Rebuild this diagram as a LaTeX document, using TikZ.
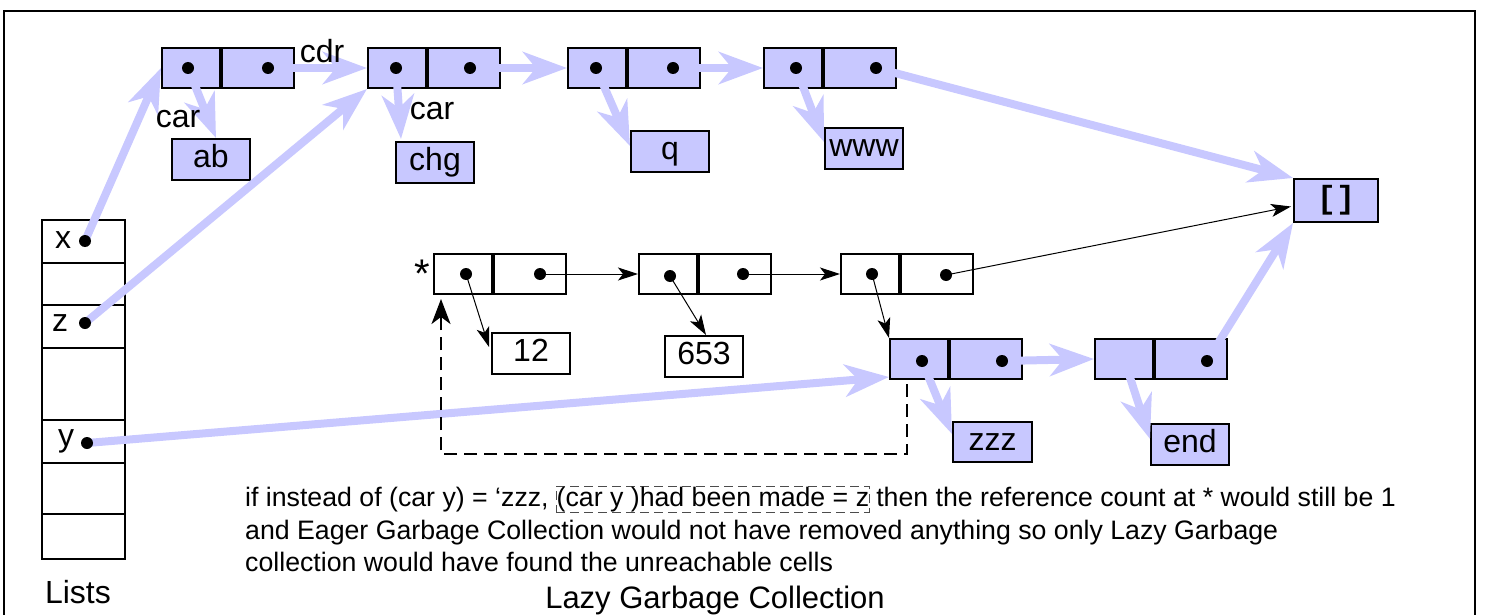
\documentclass[tikz,border=0pt]{standalone}
\usepackage{fontspec}
\setmainfont{Liberation Sans}
\newfontfamily\monofnt{Liberation Mono}
\usetikzlibrary{arrows.meta,calc}
\definecolor{cellblue}{RGB}{200,200,255}
\begin{document}
\begin{tikzpicture}[x=1pt,y=-1pt,
  every node/.style={font=\fontsize{32}{38}\selectfont, inner sep=0pt},
  halfL/.style={draw=black, line width=2pt, minimum width=58pt, minimum height=40pt},
  halfR/.style={draw=black, line width=2pt, minimum width=72pt, minimum height=40pt, anchor=west},
  bluefill/.style={fill=cellblue},
  whitefill/.style={fill=white},
  valbox/.style={draw=black, line width=2pt, minimum width=78pt, minimum height=41pt, text height=23pt, text depth=7pt},
  listcell/.style={draw=black, line width=2pt, minimum width=83pt, anchor=north west, fill=white},
  dotmark/.style={circle, fill=black, inner sep=0pt, minimum size=12pt},
  bluearrow/.style={draw=cellblue, line width=8pt, -{Stealth[length=44pt,width=32pt,inset=13pt]}},
  thinarrow/.style={draw=black, line width=1pt, -{Stealth[length=20pt,width=13pt,inset=5pt]}},
  dasharrow/.style={draw=black, line width=2pt, dash pattern=on 13pt off 7pt, -{Stealth[length=25pt,width=19pt,inset=7pt]}},
  note/.style={font=\fontsize{26.7}{32}\selectfont, anchor=base west},
  notebox/.style={font=\fontsize{26.7}{32}\selectfont, anchor=base west, draw=black!70, line width=0.8pt, dash pattern=on 9pt off 5pt, inner ysep=0.5pt, inner xsep=0.5pt}
]
\useasboundingbox (0,0) rectangle (1487,615);
% frame
\draw[line width=2pt] (4,640) -- (4,11) -- (1475,11) -- (1475,640);

% list column
\node[listcell, minimum height=43pt] (lx) at (41,219) {};
\node[listcell, minimum height=42pt] (l2) at (41,262) {};
\node[listcell, minimum height=43pt] (lz) at (41,304) {};
\node[listcell, minimum height=72pt] (l4) at (41,347) {};
\node[listcell, minimum height=43pt] (ly) at (41,419) {};
\node[listcell, minimum height=51pt] (l6) at (41,462) {};
\node[listcell, minimum height=45pt] (l7) at (41,513) {};

% top cons cells (blue)
\node[halfL, bluefill] (c1a) at (191,68) {};
\node[halfR, bluefill] (c1b) at (c1a.east) {};
\node[halfL, bluefill] (c2a) at (397,68) {};
\node[halfR, bluefill] (c2b) at (c2a.east) {};
\node[halfL, bluefill] (c3a) at (597,68) {};
\node[halfR, bluefill] (c3b) at (c3a.east) {};
\node[halfL, bluefill] (c4a) at (793,68) {};
\node[halfR, bluefill] (c4b) at (c4a.east) {};

% middle cons cells (white)
\node[halfL, whitefill] (ca) at (463,274) {};
\node[halfR, whitefill] (cab) at (ca.east) {};
\node[halfL, whitefill] (cb) at (668,274) {};
\node[halfR, whitefill] (cbb) at (cb.east) {};
\node[halfL, whitefill] (cc) at (870,274) {};
\node[halfR, whitefill] (ccb) at (cc.east) {};

% lower cons cells (blue)
\node[halfL, bluefill] (cd) at (919,359) {};
\node[halfR, bluefill] (cdb) at (cd.east) {};
\node[halfL, bluefill] (ce) at (1124,359) {};
\node[halfR, bluefill] (ceb) at (ce.east) {};

% value boxes
\node[valbox, bluefill] (ab) at (211,159.5) {ab};
\node[valbox, bluefill] (chg) at (435,162.5) {chg};
\node[valbox, bluefill] (q) at (670,151.5) {q};
\node[valbox, bluefill] (www) at (864,148.5) {www};
\node[valbox, bluefill, minimum width=84pt, minimum height=43pt] (nil) at (1336,200.5) {\monofnt\bfseries []};
\node[valbox, whitefill] (t12) at (531,353.5) {12};
\node[valbox, whitefill] (t653) at (704,356.5) {653};
\node[valbox, bluefill, minimum width=79pt, minimum height=40pt] (zzz) at (992.5,442) {zzz};
\node[valbox, bluefill] (tend) at (1190,444.5) {end};

% dot positions
\coordinate (px) at (85,241);
\coordinate (pz) at (85,323);
\coordinate (py) at (87,443);
\coordinate (p1a) at (188,68);
\coordinate (p1b) at (268,68);
\coordinate (p2a) at (396,68);
\coordinate (p2b) at (470,68);
\coordinate (p3a) at (596,68);
\coordinate (p3b) at (673,68);
\coordinate (p4a) at (796,68);
\coordinate (p4b) at (876,68);
\coordinate (pA1) at (466,274);
\coordinate (pA2) at (540,274);
\coordinate (pB1) at (670,276);
\coordinate (pB2) at (743,274);
\coordinate (pC1) at (872,274);
\coordinate (pC2) at (946,275);
\coordinate (pD1) at (922,361);
\coordinate (pD2) at (1002,361);
\coordinate (pE2) at (1207,361);

% blue pointers
\draw[bluearrow] (px) -- (c1a.west);
\draw[bluearrow] (pz) -- (c2a.south west);
\draw[bluearrow] (py) -- ($(cd.south west)+(0,-3)$);
\draw[bluearrow] (p1b) -- (c2a.west);
\draw[bluearrow] (p1a) -- ($(ab.north west)+(45,0)$);
\draw[bluearrow] (p2a) -- ($(chg.north west)+(6,-2)$);
\draw[bluearrow] (p2b) -- (c3a.west);
\draw[bluearrow] (p3a) -- ($(q.north west)+(0,16)$);
\draw[bluearrow] (p3b) -- (c4a.west);
\draw[bluearrow] (p4a) -- ($(www.north west)+(0,15)$);
\draw[bluearrow] (p4b) -- (nil.north west);
\draw[bluearrow] (pE2) -- (nil.south west);
\draw[bluearrow] (pD2) -- (ce.west);
\draw[bluearrow] (pD1) -- ($(zzz.north west)+(0,13)$);
\draw[bluearrow] (ce.center) -- ($(tend.north west)+(0,16)$);

% thin black pointers
\draw[thinarrow] (pA2) -- (cb.west);
\draw[thinarrow] (pB2) -- (cc.west);
\draw[thinarrow] (pC2) -- ($(nil.west)+(-2,6)$);
\draw[thinarrow] (pA1) -- ($(t12.north west)+(-2,15)$);
\draw[thinarrow] (pB1) -- ($(t653.north west)+(42,0)$);
\draw[thinarrow] (pC1) -- (cd.north west);

% dashed back pointer
\coordinate (dstart) at ($(cd.south west)+(18,4)$);
\draw[dasharrow] (dstart) -- ++(0,70) -| ($(ca.south west)+(8,4)$);

% dots
\foreach \p in {px,pz,py,p1a,p1b,p2a,p2b,p3a,p3b,p4a,p4b,pA1,pA2,pB1,pB2,pC1,pC2,pD1,pD2,pE2}
  \node[dotmark] at (\p) {};

% labels
\node[anchor=base] (tx) at (63,248) {x};
\node[anchor=base] (tz) at (60,331) {z};
\node[anchor=base] (ty) at (66,446) {y};
\node[anchor=base] (lists) at (78,603) {Lists};
\node[anchor=base] (cdr) at (322,63) {cdr};
\node[anchor=base] (car1) at (178,128) {car};
\node[anchor=base] (car2) at (432,120) {car};
\node[anchor=base, font=\fontsize{40}{44}\selectfont] (star) at (422,287) {*};

% note text
\node[note] (n1) at (245,506) {if instead of (car y) = ‘zzz,};
\node[notebox] (n2) at ($(n1.base east)+(7,0)$) {(car y )had been made = z};
\node[note] (n3) at ($(n2.base east)+(6,0)$) {then the reference count at * would still be 1};
\node[note] (n4) at (245,539) {and Eager Garbage Collection would not have removed anything so only Lazy Garbage};
\node[note] (n5) at (245,571) {collection would have found the unreachable cells};
\node[anchor=base, font=\fontsize{31}{37}\selectfont] (title) at (715,608) {Lazy Garbage Collection};
\end{tikzpicture}
\end{document}
